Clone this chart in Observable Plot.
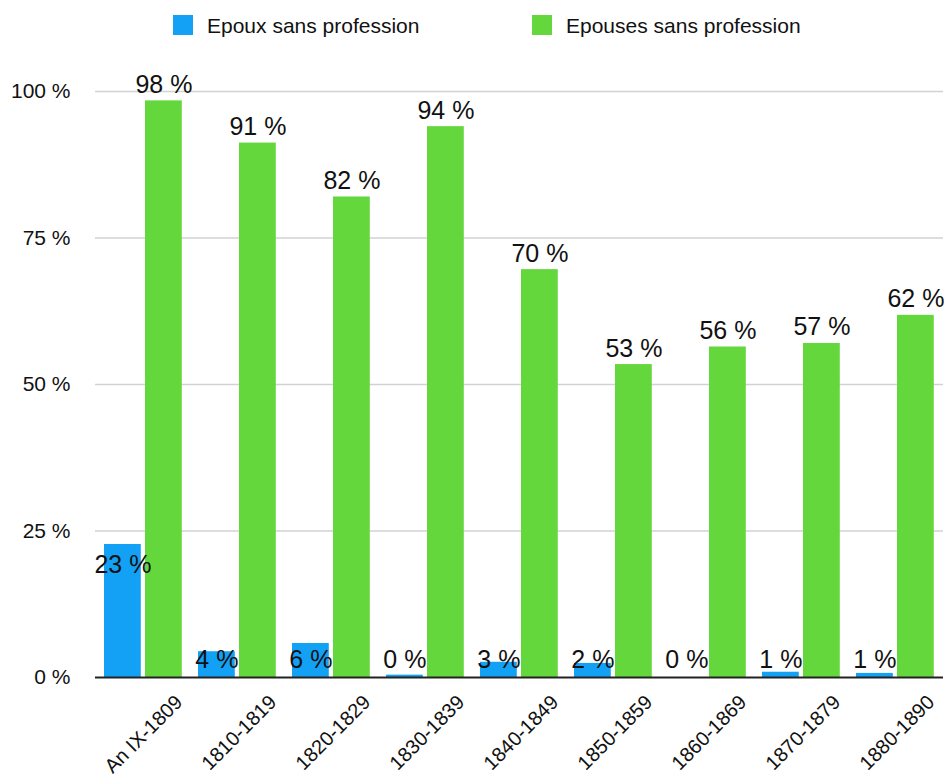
<!DOCTYPE html>
<html>
<head>
<meta charset="utf-8">
<script src="https://cdn.jsdelivr.net/npm/d3@7"></script>
<script src="https://cdn.jsdelivr.net/npm/@observablehq/plot@0.6"></script>
<style>
  html, body { margin: 0; padding: 0; background: #fff; }
  #legend { position: relative; width: 947px; height: 50px; font-family: "Liberation Sans", Arial, sans-serif; }
  .sw { position: absolute; top: 15px; width: 20px; height: 20px; }
  .lab { position: absolute; top: 14px; font-size: 21px; line-height: 24px; color: #111; white-space: nowrap; }
</style>
</head>
<body>
<div id="legend"></div>
<div id="chart"></div>
<script>
const categories = ["An IX-1809", "1810-1819", "1820-1829", "1830-1839", "1840-1849", "1850-1859", "1860-1869", "1870-1879", "1880-1890"];
const seriesNames = ["Epoux sans profession", "Epouses sans profession"];
const epoux = [22.7, 4.4, 5.8, 0.4, 2.6, 2.4, 0, 0.9, 0.7];
const epouses = [98.4, 91.2, 82, 94, 69.6, 53.4, 56.4, 57, 61.8];
const yTicks = [0, 25, 50, 75, 100];
const colors = ["#13a1f6", "#63d73c"];

// legend
const legend = document.getElementById("legend");
const legendPos = [[173, 207], [532, 566]];
seriesNames.forEach((name, i) => {
  const sw = document.createElement("div");
  sw.className = "sw"; sw.style.left = legendPos[i][0] + "px"; sw.style.background = colors[i];
  const lab = document.createElement("div");
  lab.className = "lab"; lab.style.left = legendPos[i][1] + "px"; lab.textContent = name;
  legend.appendChild(sw); legend.appendChild(lab);
});

const W = 947, H = 727, ML = 95, MR = 4, MT = 41, MB = 100;
const bw = (W - ML - MR) / categories.length;

const rows = [];
categories.forEach((c, i) => {
  rows.push({cat: c, s: 0, v: epoux[i]});
  rows.push({cat: c, s: 1, v: epouses[i]});
});
const fmt = v => Math.round(v) + " %";

const chart = Plot.plot({
  width: W, height: H,
  marginTop: MT, marginBottom: MB, marginLeft: ML, marginRight: MR,
  style: {fontFamily: "'Liberation Sans', Arial, sans-serif", fontSize: "21px", color: "#111", background: "white"},
  x: {type: "band", domain: categories, padding: 0, axis: null},
  y: {domain: [0, 100], ticks: yTicks, tickFormat: d => d + " %", tickSize: 0, tickPadding: 25, label: null},
  marks: [
    Plot.ruleY(yTicks.filter(t => t > 0), {stroke: "#d2d2d2", strokeWidth: 1.5}),
    Plot.barY(rows, {filter: d => d.s === 0, x: "cat", y: "v", fill: colors[0], insetLeft: 8, insetRight: bw - 45}),
    Plot.barY(rows, {filter: d => d.s === 1, x: "cat", y: "v", fill: colors[1], insetLeft: 49, insetRight: bw - 86}),
    Plot.ruleY([0], {stroke: "#222", strokeWidth: 2}),
    Plot.text(rows, {filter: d => d.s === 1, x: "cat", y: "v", text: d => fmt(d.v), dx: 67.5 - bw / 2, dy: -8, lineAnchor: "bottom", fontSize: 25, fill: "#111"}),
    Plot.text(rows, {filter: d => d.s === 0, x: "cat", y: d => Math.max(d.v - 4.95, 1.7), text: d => fmt(d.v), dx: 26.5 - bw / 2, lineAnchor: "bottom", fontSize: 25, fill: "#111"}),
    Plot.text(categories, {x: d => d, frameAnchor: "bottom", text: d => d, rotate: -45, textAnchor: "end", lineAnchor: "bottom", dx: 40, dy: 26, fontSize: 20, fill: "#111"})
  ]
});
document.getElementById("chart").appendChild(chart);
</script>
</body>
</html>
